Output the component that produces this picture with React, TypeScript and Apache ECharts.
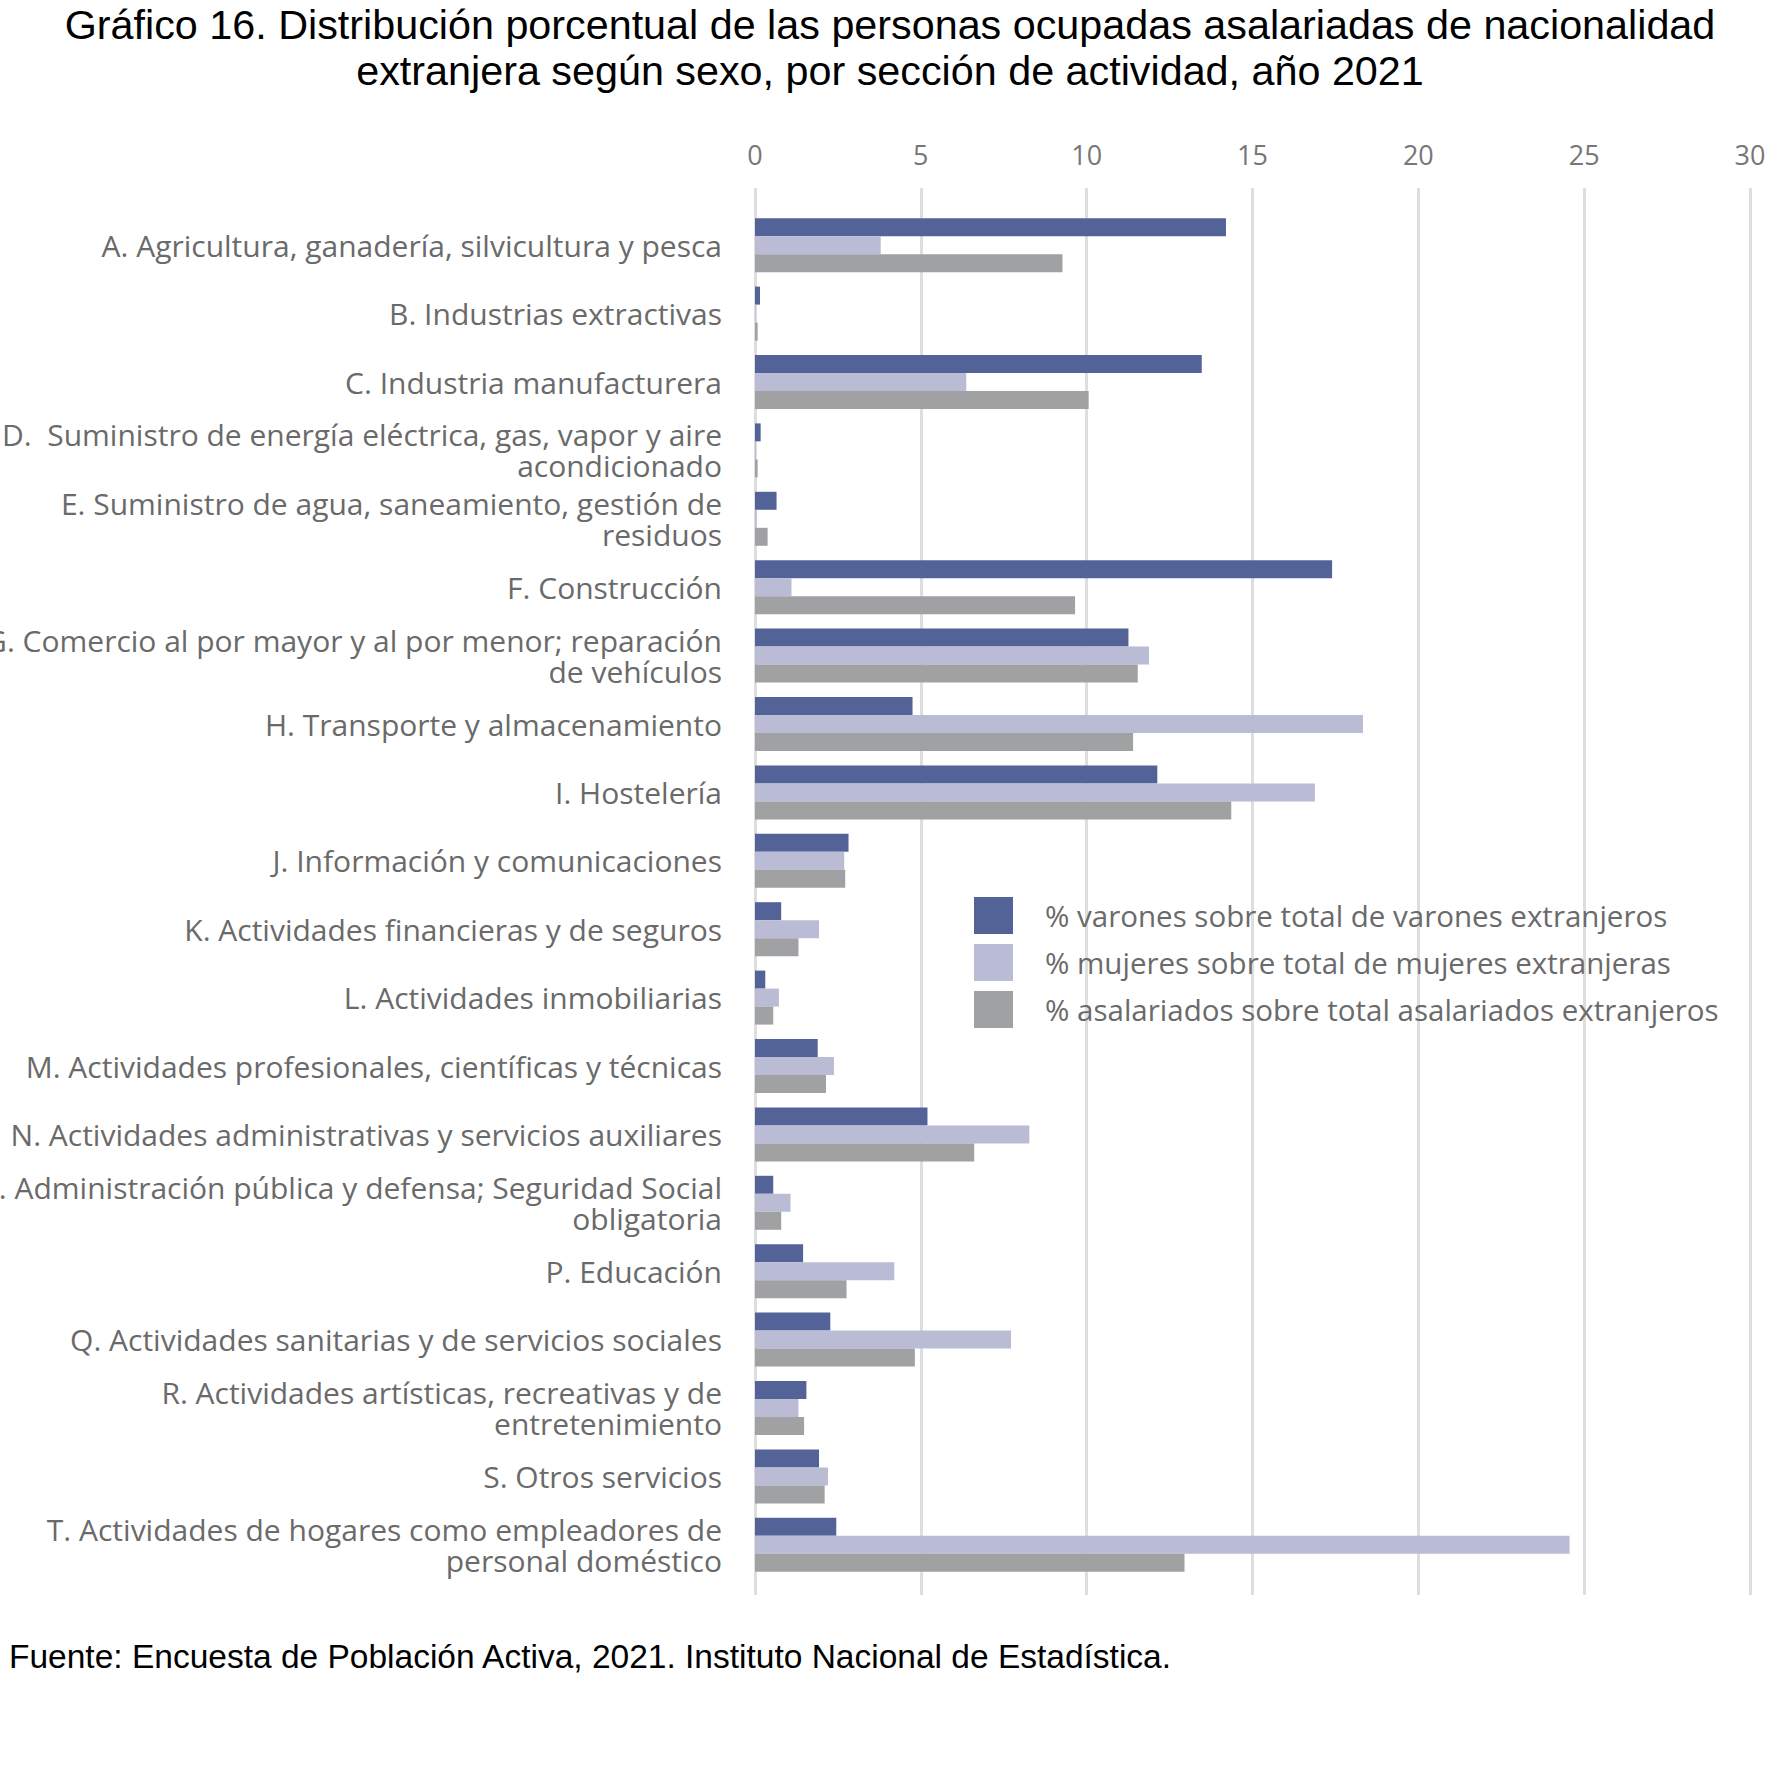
import React, { useEffect, useRef } from "react";
import * as echarts from "echarts";

const categories = [
  "A. Agricultura, ganadería, silvicultura y pesca",
  "B. Industrias extractivas",
  "C. Industria manufacturera",
  "D.  Suministro de energía eléctrica, gas, vapor y aire\nacondicionado",
  "E. Suministro de agua, saneamiento, gestión de\nresiduos",
  "F. Construcción",
  "G. Comercio al por mayor y al por menor; reparación\nde vehículos",
  "H. Transporte y almacenamiento",
  "I. Hostelería",
  "J. Información y comunicaciones",
  "K. Actividades financieras y de seguros",
  "L. Actividades inmobiliarias",
  "M. Actividades profesionales, científicas y técnicas",
  "N. Actividades administrativas y servicios auxiliares",
  "O. Administración pública y defensa; Seguridad Social\nobligatoria",
  "P. Educación",
  "Q. Actividades sanitarias y de servicios sociales",
  "R. Actividades artísticas, recreativas y de\nentretenimiento",
  "S. Otros servicios",
  "T. Actividades de hogares como empleadores de\npersonal doméstico",
];

const varones = [14.2, 0.15, 13.47, 0.17, 0.65, 17.4, 11.26, 4.75, 12.13, 2.82, 0.79, 0.31, 1.89, 5.2, 0.55, 1.45, 2.27, 1.55, 1.93, 2.45];
const mujeres = [3.79, 0.02, 6.37, 0.03, 0.05, 1.1, 11.88, 18.33, 16.88, 2.69, 1.93, 0.72, 2.38, 8.27, 1.07, 4.2, 7.72, 1.31, 2.2, 24.56];
const total = [9.27, 0.08, 10.06, 0.08, 0.38, 9.65, 11.54, 11.4, 14.36, 2.72, 1.31, 0.55, 2.14, 6.61, 0.79, 2.76, 4.82, 1.48, 2.1, 12.95];

const seriesNames = [
  "% varones sobre total de varones extranjeros",
  "% mujeres sobre total de mujeres extranjeras",
  "% asalariados sobre total asalariados extranjeros",
];
const colors = ["#536397", "#babbd5", "#a0a1a3"];

const titleText =
  "Gráfico 16. Distribución porcentual de las personas ocupadas asalariadas de nacionalidad\nextranjera según sexo, por sección de actividad, año 2021";
const sourceText = "Fuente: Encuesta de Población Activa, 2021. Instituto Nacional de Estadística.";

const axisTicks = [0, 30, 5];

export default function App() {
  const ref = useRef<HTMLDivElement>(null);
  useEffect(() => {
    if (!ref.current) return;
    const chart = echarts.init(ref.current, null, { renderer: "svg" });
    const labelFont = "Open Sans";
    const option = {
      animation: false,
      backgroundColor: "#ffffff",
      graphic: [
        {
          type: "text",
          x: 890,
          y: 2,
          style: {
            text: titleText,
            align: "center",
            verticalAlign: "top",
            fontFamily: "Liberation Sans",
            fontSize: 41.3,
            lineHeight: 46,
            fill: "#000000",
          },
        },
        {
          type: "text",
          x: 9,
          y: 1656,
          style: {
            text: sourceText,
            verticalAlign: "middle",
            fontFamily: "Liberation Sans",
            fontSize: 33.5,
            fill: "#000000",
          },
        },
      ],
      legend: {
        orient: "vertical",
        left: 969,
        top: 892,
        itemWidth: 39,
        itemHeight: 37,
        itemGap: 10,
        icon: "rect",
        textStyle: { fontFamily: labelFont, fontSize: 29.5, color: "#6a6a6a", padding: [0, 0, 0, 27] },
        data: seriesNames,
      },
      grid: [
        { left: 755, right: 31, top: 211, height: 1368, outerBoundsMode: "none", containLabel: false },
        { left: 755, right: 31, top: 188, height: 1407, outerBoundsMode: "none", containLabel: false },
      ],
      xAxis: [
        {
          type: "value",
          gridIndex: 0,
          min: axisTicks[0],
          max: axisTicks[1],
          interval: axisTicks[2],
          show: false,
          splitLine: { show: false },
        },
        {
          type: "value",
          gridIndex: 1,
          position: "top",
          min: axisTicks[0],
          max: axisTicks[1],
          interval: axisTicks[2],
          axisLine: { show: false },
          axisTick: { show: false },
          axisLabel: { fontFamily: labelFont, fontSize: 27, color: "#777777", margin: 20 },
          splitLine: { show: true, lineStyle: { color: "#dedede", width: 3 } },
        },
      ],
      yAxis: [
        {
          type: "category",
          gridIndex: 0,
          inverse: true,
          data: categories,
          axisLine: { show: false },
          axisTick: { show: false },
          axisLabel: {
            fontFamily: labelFont,
            fontSize: 30,
            lineHeight: 31,
            color: "#6a6a6a",
            margin: 33,
            align: "right",
          },
        },
        {
          type: "value",
          gridIndex: 1,
          show: false,
          min: 0,
          max: 1,
        },
      ],
      series: [varones, mujeres, total].map((d, i) => ({
        name: seriesNames[i],
        type: "bar",
        xAxisIndex: 0,
        yAxisIndex: 0,
        data: d,
        barWidth: 18,
        barGap: "0%",
        itemStyle: { color: colors[i] },
      })),
    };
    chart.setOption(option as any);
    return () => chart.dispose();
  }, []);
  return (
    <div
      ref={ref}
      style={{ position: "absolute", left: 0, top: 0, width: 1781, height: 1789 }}
    />
  );
}
